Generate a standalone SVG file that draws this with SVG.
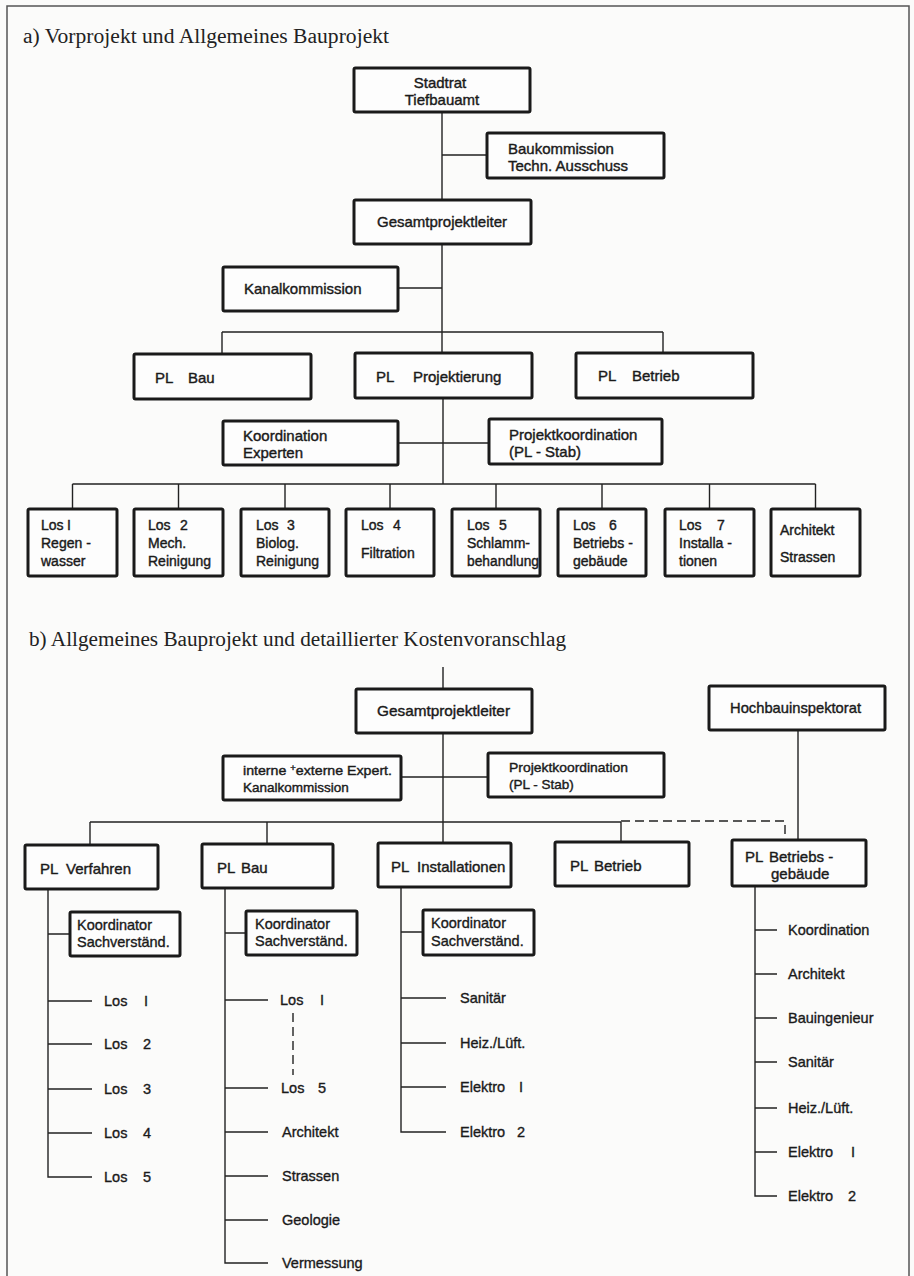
<svg xmlns="http://www.w3.org/2000/svg" width="914" height="1276" viewBox="0 0 914 1276">
<style>
.bg{fill:#fbfbfa}
.frame{fill:none;stroke:#555;stroke-width:1.5}
.box{fill:#fdfdfd;stroke:#1a1a1a;stroke-width:3}
.ln{fill:none;stroke:#222;stroke-width:1.4}
.dash{fill:none;stroke:#222;stroke-width:1.4;stroke-dasharray:9 5}
.t{font-family:"Liberation Sans",Arial,sans-serif;font-size:15px;fill:#1a1a1a;stroke:#1a1a1a;stroke-width:0.4}
.n{font-family:"Liberation Sans",Arial,sans-serif;font-size:13.5px;fill:#1a1a1a;stroke:#1a1a1a;stroke-width:0.4}
.s{font-family:"Liberation Sans",Arial,sans-serif;font-size:14px;fill:#1a1a1a;stroke:#1a1a1a;stroke-width:0.4}
.l{font-family:"Liberation Sans",Arial,sans-serif;font-size:14.5px;fill:#1a1a1a;stroke:#1a1a1a;stroke-width:0.35}
.title{font-family:"Liberation Serif","Times New Roman",serif;font-size:20px;fill:#222}
.c{text-anchor:middle}
</style>
<rect class="bg" x="0" y="0" width="914" height="1276"/>
<path class="frame" d="M7 1280 V6 H909 V1280"/>
<text class="title" x="23" y="43" textLength="366" lengthAdjust="spacingAndGlyphs">a)  Vorprojekt und Allgemeines Bauprojekt</text>
<text class="title" x="29" y="646" textLength="537" lengthAdjust="spacingAndGlyphs">b)  Allgemeines Bauprojekt und detaillierter Kostenvoranschlag</text>

<g id="connectors">
<path class="ln" d="M442 112 V200 M442 155 H487 M442 244 V353 M398 288 H442 M222 332 H663 M222 332 V354 M663 332 V353 M443 398 V484 M398 443 H489"/>
<path class="ln" d="M72.5 484 H815.5 M72.5 484 V509 M178.5 484 V509 M285 484 V509 M390 484 V509 M496 484 V509 M602 484 V509 M709.5 484 V509 M815.5 484 V509"/>
<path class="ln" d="M443 667 V689 M443 733 V843 M401 777 H488 M90 822 H621 M90 822 V845 M267 822 V844 M621 822 V842 M798 730 V840"/>
<path class="dash" d="M621 821 H785 V840"/>
<path class="ln" d="M48 889 V1177 H92 M48 934 H70 M48 1001 H92 M48 1044 H92 M48 1089 H92 M48 1133 H92"/>
<path class="ln" d="M225 888 V1263 H268 M225 933 H246 M225 1000 H268 M225 1088 H268 M225 1132 H268 M225 1176 H268 M225 1220 H268"/>
<path class="dash" d="M293 1013 V1075"/>
<path class="ln" d="M401 887 V1132 H446 M401 932 H423 M401 998 H446 M401 1043 H446 M401 1087 H446"/>
<path class="ln" d="M755 886 V1196 H777 M755 930 H777 M755 974 H777 M755 1018 H777 M755 1062 H777 M755 1108 H777 M755 1152 H777"/>
</g>

<g id="stadtrat"><rect class="box" x="354" y="68" width="176" height="44" rx="1.5"/><text class="t c" x="440" y="88">Stadtrat</text><text class="t c" x="442" y="105">Tiefbauamt</text></g>
<g id="baukommission"><rect class="box" x="487" y="133" width="177" height="45" rx="1.5"/><text class="t" x="508" y="154">Baukommission</text><text class="t" x="508" y="171">Techn. Ausschuss</text></g>
<g id="gesamt-a"><rect class="box" x="354" y="200" width="177" height="44" rx="1.5"/><text class="t c" x="442" y="227">Gesamtprojektleiter</text></g>
<g id="kanalkommission"><rect class="box" x="223" y="267" width="175" height="44" rx="1.5"/><text class="t" x="244" y="294">Kanalkommission</text></g>
<g id="pl-bau-a"><rect class="box" x="134" y="354" width="177" height="45" rx="1.5"/><text class="t" x="155" y="383">PL <tspan x="188">Bau</tspan></text></g>
<g id="pl-projektierung"><rect class="box" x="355" y="353" width="177" height="45" rx="1.5"/><text class="t" x="376" y="382">PL <tspan x="413">Projektierung</tspan></text></g>
<g id="pl-betrieb-a"><rect class="box" x="576" y="353" width="177" height="45" rx="1.5"/><text class="t" x="598" y="381">PL <tspan x="632">Betrieb</tspan></text></g>
<g id="koordination-experten"><rect class="box" x="223" y="421" width="175" height="44" rx="1.5"/><text class="t" x="243" y="441">Koordination</text><text class="t" x="243" y="458">Experten</text></g>
<g id="projektkoordination-a"><rect class="box" x="489" y="419" width="173" height="45" rx="1.5"/><text class="t" x="509" y="440">Projektkoordination</text><text class="t" x="509" y="457">(PL - Stab)</text></g>

<g id="los1"><rect class="box" x="28" y="509" width="89" height="67" rx="1.5"/><text class="s" x="41" y="530">Los <tspan x="67">I</tspan></text><text class="s" x="41" y="548">Regen -</text><text class="s" x="41" y="566">wasser</text></g>
<g id="los2"><rect class="box" x="134" y="509" width="89" height="67" rx="1.5"/><text class="s" x="148" y="530">Los <tspan x="180">2</tspan></text><text class="s" x="148" y="548">Mech.</text><text class="s" x="148" y="566">Reinigung</text></g>
<g id="los3"><rect class="box" x="241" y="509" width="88" height="67" rx="1.5"/><text class="s" x="256" y="530">Los <tspan x="287">3</tspan></text><text class="s" x="256" y="548">Biolog.</text><text class="s" x="256" y="566">Reinigung</text></g>
<g id="los4"><rect class="box" x="346" y="509" width="88" height="67" rx="1.5"/><text class="s" x="361" y="530">Los <tspan x="393">4</tspan></text><text class="s" x="361" y="558">Filtration</text></g>
<g id="los5"><rect class="box" x="452" y="509" width="88" height="67" rx="1.5"/><text class="s" x="467" y="530">Los <tspan x="499">5</tspan></text><text class="s" x="467" y="548">Schlamm-</text><text class="s" x="467" y="566" textLength="72" lengthAdjust="spacingAndGlyphs">behandlung</text></g>
<g id="los6"><rect class="box" x="558" y="509" width="88" height="67" rx="1.5"/><text class="s" x="573" y="530">Los <tspan x="609">6</tspan></text><text class="s" x="573" y="548">Betriebs -</text><text class="s" x="573" y="566">gebäude</text></g>
<g id="los7"><rect class="box" x="665" y="509" width="89" height="67" rx="1.5"/><text class="s" x="679" y="530">Los <tspan x="717">7</tspan></text><text class="s" x="679" y="548">Installa -</text><text class="s" x="679" y="566">tionen</text></g>
<g id="architekt-strassen"><rect class="box" x="771" y="509" width="89" height="67" rx="1.5"/><text class="s" x="780" y="535">Architekt</text><text class="s" x="780" y="562">Strassen</text></g>

<g id="gesamt-b"><rect class="box" x="356" y="689" width="176" height="44" rx="1.5"/><text class="t" x="377" y="716" textLength="133" lengthAdjust="spacingAndGlyphs">Gesamtprojektleiter</text></g>
<g id="hochbauinspektorat"><rect class="box" x="709" y="686" width="176" height="44" rx="1.5"/><text class="t" x="730" y="713" textLength="131" lengthAdjust="spacingAndGlyphs">Hochbauinspektorat</text></g>
<g id="interne-externe"><rect class="box" x="223" y="756" width="178" height="44" rx="1.5"/><text class="n" x="243" y="775" textLength="149" lengthAdjust="spacingAndGlyphs">interne <tspan font-size="9" dy="-4">+</tspan><tspan dy="4">externe Expert.</tspan></text><text class="n" x="243" y="792">Kanalkommission</text></g>
<g id="projektkoordination-b"><rect class="box" x="488" y="753" width="176" height="44" rx="1.5"/><text class="n" x="509" y="772" textLength="119" lengthAdjust="spacingAndGlyphs">Projektkoordination</text><text class="n" x="509" y="789">(PL - Stab)</text></g>
<g id="pl-verfahren"><rect class="box" x="25" y="845" width="133" height="44" rx="1.5"/><text class="t" x="40" y="874">PL <tspan x="66">Verfahren</tspan></text></g>
<g id="pl-bau-b"><rect class="box" x="202" y="844" width="131" height="44" rx="1.5"/><text class="t" x="217" y="873">PL <tspan x="241">Bau</tspan></text></g>
<g id="pl-installationen"><rect class="box" x="378" y="843" width="133" height="44" rx="1.5"/><text class="t" x="391" y="872">PL <tspan x="417">Installationen</tspan></text></g>
<g id="pl-betrieb-b"><rect class="box" x="555" y="842" width="134" height="44" rx="1.5"/><text class="t" x="570" y="871">PL <tspan x="594">Betrieb</tspan></text></g>
<g id="pl-betriebsgebaeude"><rect class="box" x="732" y="840" width="134" height="46" rx="1.5"/><text class="t" x="745" y="862">PL <tspan x="769">Betriebs -</tspan></text><text class="t" x="771" y="879">gebäude</text></g>
<g id="koordinator-verfahren"><rect class="box" x="70" y="912" width="110" height="44" rx="1.5"/><text class="l" x="77" y="930">Koordinator</text><text class="l" x="77" y="947">Sachverständ.</text></g>
<g id="koordinator-bau"><rect class="box" x="246" y="911" width="111" height="44" rx="1.5"/><text class="l" x="255" y="929">Koordinator</text><text class="l" x="255" y="946">Sachverständ.</text></g>
<g id="koordinator-installationen"><rect class="box" x="423" y="910" width="111" height="45" rx="1.5"/><text class="l" x="431" y="928">Koordinator</text><text class="l" x="431" y="946">Sachverständ.</text></g>

<g id="verfahren-lose">
<text class="l" x="104" y="1006">Los <tspan x="144">I</tspan></text>
<text class="l" x="104" y="1049">Los <tspan x="143">2</tspan></text>
<text class="l" x="104" y="1094">Los <tspan x="143">3</tspan></text>
<text class="l" x="104" y="1138">Los <tspan x="143">4</tspan></text>
<text class="l" x="104" y="1182">Los <tspan x="143">5</tspan></text>
</g>
<g id="bau-items">
<text class="l" x="280" y="1005">Los <tspan x="320">I</tspan></text>
<text class="l" x="281" y="1093">Los <tspan x="318">5</tspan></text>
<text class="l" x="282" y="1137">Architekt</text>
<text class="l" x="282" y="1181">Strassen</text>
<text class="l" x="282" y="1225">Geologie</text>
<text class="l" x="282" y="1268">Vermessung</text>
</g>
<g id="installationen-items">
<text class="l" x="460" y="1003">Sanitär</text>
<text class="l" x="460" y="1048">Heiz./Lüft.</text>
<text class="l" x="460" y="1092">Elektro <tspan x="519">I</tspan></text>
<text class="l" x="460" y="1137">Elektro <tspan x="517">2</tspan></text>
</g>
<g id="betriebsgebaeude-items">
<text class="l" x="788" y="935">Koordination</text>
<text class="l" x="788" y="979">Architekt</text>
<text class="l" x="788" y="1023">Bauingenieur</text>
<text class="l" x="788" y="1067">Sanitär</text>
<text class="l" x="788" y="1113">Heiz./Lüft.</text>
<text class="l" x="788" y="1157">Elektro <tspan x="851">I</tspan></text>
<text class="l" x="788" y="1201">Elektro <tspan x="848">2</tspan></text>
</g>
</svg>
